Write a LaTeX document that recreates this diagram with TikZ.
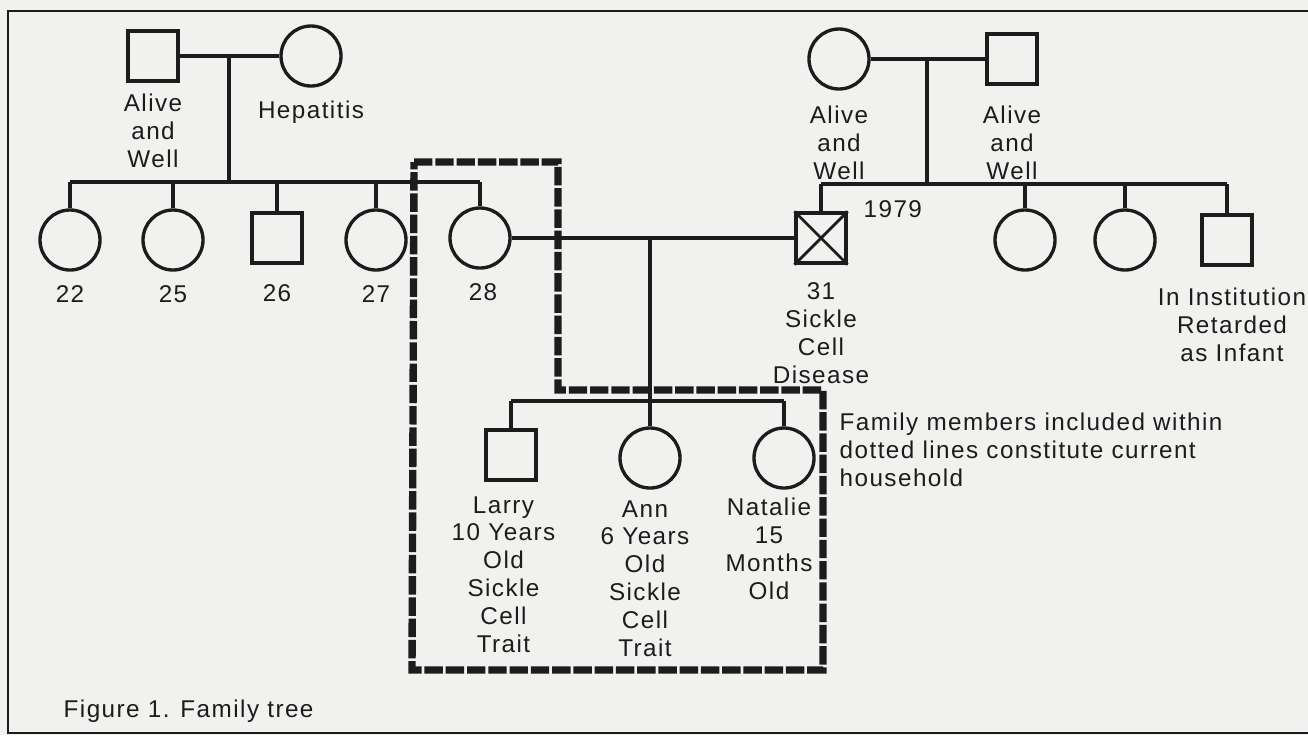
\documentclass[tikz,border=0pt]{standalone}
\usepackage{fontspec}
\setmainfont{Liberation Sans}[LetterSpace=6]
\usetikzlibrary{positioning}
\definecolor{paper}{RGB}{241,241,239}
\definecolor{ink}{RGB}{28,28,28}

\begin{document}
\begin{tikzpicture}[
  x=0.2mm, y=-0.2mm,
  font=\fontsize{13.8}{15.9}\selectfont,
  line width=1.9pt, draw=ink, text=ink,
  male/.style={draw, rectangle, minimum size=10mm, inner sep=0pt},
  female/.style={draw, circle, minimum size=12mm, inner sep=0pt},
  lbl/.style={align=center, inner sep=0pt},
  house/.style={line width=4.2pt, dash pattern=on 10.5pt off 1.6pt}
]
\useasboundingbox[fill=paper] (0,0) rectangle (1308,735);
\draw[line width=1.2pt] (1320,11) -- (8,11) -- (8,733) -- (1320,733);

% father's parents
\node[male] (pgf) at (153,56) {};
\node[female] (pgm) at (311,56) {};
\node[lbl, below=2mm of pgf] (lpgf) {Alive\\and\\Well};
\node[lbl, below=2.4mm of pgm] (lpgm) {Hepatitis};
\coordinate (pgx) at (229,56);
\coordinate (psib) at (229,182);
\draw (pgf) -- (pgm);
\draw (pgx) -- (psib);

% father and his sisters/brother
\node[female] (c22) at (70,240) {};
\node[female] (c25) at (173,240) {};
\node[male] (s26) at (277,238) {};
\node[female] (c27) at (376,240) {};
\node[female] (c28) at (480,238) {};
\node[lbl, below=2.4mm of c22] (l22) {22};
\node[lbl, below=2.4mm of c25] (l25) {25};
\node[lbl, below=3.6mm of s26] (l26) {26};
\node[lbl, below=2.4mm of c27] (l27) {27};
\node[lbl, below=2.4mm of c28, xshift=0.6mm] (l28) {28};
\draw (c22 |- psib) -- (c28 |- psib);
\foreach \k in {c22,c25,s26,c27,c28}
  \draw (\k) -- (\k |- psib);

% mother's parents
\node[female] (mgm) at (839,59) {};
\node[male] (mgf) at (1012,59) {};
\node[lbl, below=2.8mm of mgm] (lmgm) {Alive\\and\\Well};
\node[lbl, below=3.8mm of mgf] (lmgf) {Alive\\and\\Well};
\coordinate (mgx) at (927,59);
\coordinate (msib) at (927,184);
\draw (mgm) -- (mgf);
\draw (mgx) -- (msib);

% mother's side children
\node[male] (s31) at (821,238) {};
\draw[line width=1.6pt] (s31.north west) -- (s31.south east)
  (s31.north east) -- (s31.south west);
\node[female] (c1) at (1025,240) {};
\node[female] (c2) at (1125,240) {};
\node[male] (sinst) at (1227,240) {};
\node[lbl, below=3.2mm of s31] (l31) {31\\Sickle\\Cell\\Disease};
\node[lbl, anchor=base west] (yr) at (862,217) {1979};
\node[lbl, below=4mm of sinst, xshift=1mm] (linst) {In Institution\\Retarded\\as Infant};
\draw (s31 |- msib) -- (sinst |- msib);
\foreach \k in {s31,c1,c2,sinst}
  \draw (\k) -- (\k |- msib);

% couple and grandchildren
\coordinate (hx) at (650,238);
\coordinate (hsib) at (650,401);
\draw (c28) -- (s31);
\draw (hx) -- (hsib);
\node[male] (larry) at (511,455) {};
\node[female] (ann) at (650,458) {};
\node[female] (nat) at (784,458) {};
\node[lbl, below=2.6mm of larry, xshift=-1.5mm] (llarry) {Larry\\10 Years\\Old\\Sickle\\Cell\\Trait};
\node[lbl, below=1.8mm of ann, xshift=-1mm] (lann) {Ann\\6 Years\\Old\\Sickle\\Cell\\Trait};
\node[lbl, below=1.4mm of nat, xshift=-3mm] (lnat) {Natalie\\15\\Months\\Old};
\draw (larry |- hsib) -- (nat |- hsib);
\foreach \k in {larry,ann,nat}
  \draw (\k) -- (\k |- hsib);

% current household
\draw[house] (414,162) -- (558,162) -- (558,390) -- (823,390)
  -- (823,670) -- (412,670) -- cycle;
\node[lbl, align=left, anchor=base west] (note) at (838,486)
  {Family members included within\\dotted lines constitute current\\household};

\node[lbl, anchor=base west] (cap) at (62,717) {Figure 1. Family tree};
\end{tikzpicture}
\end{document}
